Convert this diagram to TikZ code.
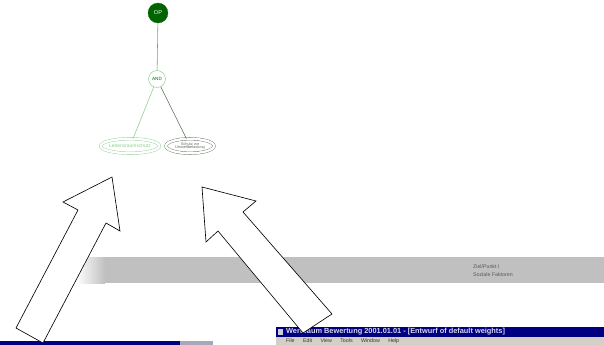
\documentclass[tikz,border=0pt]{standalone}
\usepackage{fontspec}
\setmainfont{Liberation Sans}
\usetikzlibrary{calc, shapes.geometric}

\definecolor{treedark}{RGB}{0,100,0}
\definecolor{treelight}{RGB}{140,205,140}
\definecolor{treegray}{RGB}{95,110,95}
\definecolor{edgegreen}{RGB}{120,160,120}
\definecolor{bargray}{RGB}{192,192,192}
\definecolor{titleblue}{RGB}{0,0,128}
\definecolor{menugray}{RGB}{212,208,200}

\begin{document}
\begin{tikzpicture}[x=0.05cm, y=-0.05cm,
  rootnode/.style={circle, fill=treedark, draw=treedark, minimum size=1cm, inner sep=0pt, text=white, font=\fontsize{8}{9}\selectfont},
  andnode/.style={circle, draw=treelight, fill=white, line width=0.7pt, minimum size=0.85cm, inner sep=0pt, text=treedark, font=\fontsize{6.5}{7}\selectfont},
  leafnode/.style={ellipse, double, double distance=0.12cm, line width=0.55pt, minimum width=2.4cm, minimum height=0.72cm, inner sep=0pt},
  treeedge/.style={line width=0.8pt},
  bigarrow/.style={draw=black, fill=white, line width=0.9pt, line join=miter},
  smalltext/.style={inner sep=0pt, anchor=west}
]

\newcommand{\barleft}{76}
\newcommand{\bartop}{257}
\newcommand{\barbottom}{283}
\newcommand{\winleft}{276}

\useasboundingbox (0,0) rectangle (604,345);

% tree
\node [rootnode] (root) at (158,13) {OP};
\node [andnode] (andn) at (157,79) {AND};
\node [leafnode, draw=treelight, text=treelight, font=\fontsize{7}{8}\selectfont] (leafl) at (130,146) {Lebensraumschutz};
\node [leafnode, draw=treegray, text=treegray, align=center, font=\fontsize{5.5}{5.5}\selectfont] (leafr) at (190,146) {Schutz vor\\Umweltbelastung};

\draw [treeedge, edgegreen] (root) -- (andn);
\draw [treeedge, treelight] (andn) -- (leafl);
\draw [treeedge, treegray] (andn) -- (leafr);

% gray bar
\shade [left color=white, right color=bargray] (\barleft,\bartop) rectangle (105,\barbottom);
\fill [bargray] (105,\bartop) rectangle (604,\barbottom);
\node [smalltext, text=black!65, align=left, font=\fontsize{7.5}{12}\selectfont] (bartext) at (473,270.5) {Ziel/Punkt I\\Soziale Faktoren};

% window left
\fill [titleblue] (0,341) rectangle (180,345);
\fill [menugray!80!titleblue] (180,341) rectangle (213,345);

% window right
\fill [titleblue] (\winleft,327) rectangle (604,337);
\fill [menugray] (\winleft,337) rectangle (604,345);
\fill [white!80!titleblue] (278,329) rectangle (283,335);
\node [smalltext, text=white!85!titleblue, font=\bfseries\fontsize{10.5}{11}\selectfont] (wintitle) at (286,332) {Wertbaum Bewertung 2001.01.01 - [Entwurf of default weights]};
\node [smalltext, text=black!80, font=\fontsize{7.5}{8}\selectfont] (winmenu) at (286,341.5) {File\hspace{1.6em}Edit\hspace{1.6em}View\hspace{1.6em}Tools\hspace{1.6em}Window\hspace{1.6em}Help};

% arrows
\draw [bigarrow] (112,177) -- (120,231) -- (106,223) -- (43,343) -- (16,328) -- (78,210) -- (63,202) -- cycle;
\draw [bigarrow] (202,187) -- (256,201) -- (243,212) -- (332,314) -- (303,333) -- (218,231) -- (206,242) -- cycle;

\end{tikzpicture}
\end{document}
